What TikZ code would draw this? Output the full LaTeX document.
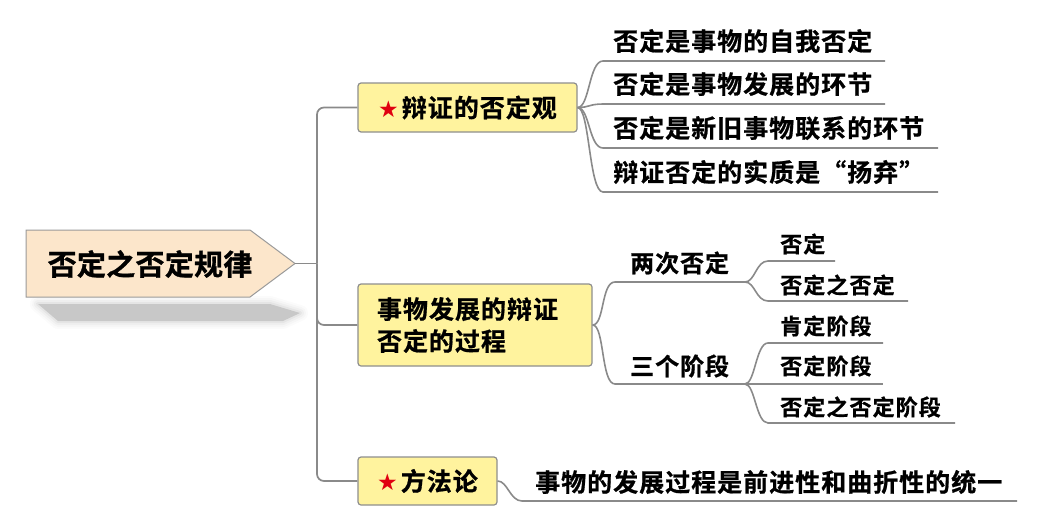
\documentclass[tikz,border=0pt]{standalone}
\usepackage{fontspec}
\setmainfont{Noto Sans CJK SC Bold}
\newfontfamily\cjkA{Noto Sans CJK SC Bold}[LetterSpace=4,FakeBold=0.8]
\newfontfamily\cjkB{Noto Sans CJK SC Bold}[LetterSpace=5,FakeBold=0.8]
\newfontfamily\cjkR{Noto Sans CJK SC Bold}[LetterSpace=1,FakeBold=1]
\newfontfamily\symfont{DejaVu Sans}
\definecolor{nodeyellow}{HTML}{FFF39E}
\definecolor{boxgray}{HTML}{8E8E8E}
\definecolor{rootfill}{HTML}{FCE6CB}
\definecolor{rootborder}{HTML}{9A9A9A}
\definecolor{linegray}{HTML}{8A8A8A}
\definecolor{shadowgray}{HTML}{C8C8C8}
\definecolor{starred}{HTML}{E00010}
\newcommand{\redstar}{{\symfont\fontsize{23}{23}\selectfont\textcolor{starred}{★}}\hspace{3pt}}
\begin{document}
\begin{tikzpicture}[x=1pt,y=-1pt,
  conn/.style={draw=linegray, line width=1.7pt, rounded corners=7pt},
  curv/.style={draw=linegray, line width=1.6pt},
  topic/.style={draw=boxgray, fill=nodeyellow, line width=1.2pt, rounded corners=3pt, inner sep=0pt, font=\cjkA\fontsize{25}{32}\selectfont},
  leafA/.style={anchor=west, inner sep=0pt, font=\cjkA\fontsize{25}{28}\selectfont},
  leafM/.style={anchor=west, inner sep=0pt, font=\cjkA\fontsize{24}{28}\selectfont},
  leafB/.style={anchor=west, inner sep=0pt, font=\cjkB\fontsize{22}{26}\selectfont},
]
\useasboundingbox (0,0) rectangle (1039,528);
% shadow of the root
\foreach \w/\o in {16/0.07, 12/0.1, 8/0.15, 4/0.25}
  \draw[shadowgray, line width=\w pt, opacity=\o, line join=round] (38,304) -- (270,304) -- (300,313) -- (283,321) -- (58,321) -- cycle;
\fill[shadowgray] (38,304) -- (270,304) -- (300,313) -- (283,321) -- (58,321) -- cycle;
% root
\draw[fill=rootfill, draw=rootborder, line width=1pt] (26,230) -- (250,230) -- (295,263.5) -- (250,297) -- (26,297) -- cycle;
\node[font=\cjkR\fontsize{29}{32}\selectfont, inner sep=0pt] (root) at (150,264) {否定之否定规律};
\coordinate (roottip) at (295,263.5);
\coordinate (trunk) at (317,263.5);

% main topics
\node[topic, minimum width=219, minimum height=49] (n1) at (467.5,107.5) {\redstar 辩证的否定观};
\node[topic, minimum width=234, minimum height=82, text width=196, inner xsep=19pt, align=left] (n2) at (475,325) {事物发展的辩证\\否定的过程};
\node[topic, minimum width=139, minimum height=48] (n3) at (427.5,481) {\redstar 方法论};

% trunk
\draw[conn] (roottip) -- (trunk);
\draw[conn] (n1.west) -| (trunk);
\draw[conn] (n2.west) -| (trunk);
\draw[conn] (n3.west) -| (trunk);

% leaves of n1
\node[leafA] (a1) at (613,41) {否定是事物的自我否定};
\node[leafA] (a2) at (613,84) {否定是事物发展的环节};
\node[leafA] (a3) at (613,128) {否定是新旧事物联系的环节};
\node[leafA] (a4) at (613,172) {辩证否定的实质是“扬弃”};
\coordinate (a1s) at (603,61);  \coordinate (a1e) at (885,61);
\coordinate (a2s) at (603,104); \coordinate (a2e) at (885,104);
\coordinate (a3s) at (603,148); \coordinate (a3e) at (938,148);
\coordinate (a4s) at (603,192); \coordinate (a4e) at (938,192);
\foreach \i in {1,2,3,4}
  \draw[curv] (n1.east) .. controls +(12,0) and +(-14,0) .. (a\i s) -- (a\i e);

% leaves of n2
\node[leafM] (b1) at (630,263) {两次否定};
\node[leafM] (b2) at (630,366) {三个阶段};
\coordinate (b1s) at (615,282); \coordinate (b1e) at (745,282);
\coordinate (b2s) at (615,384); \coordinate (b2e) at (745,384);
\foreach \i in {1,2}
  \draw[curv] (n2.east) .. controls +(12,0) and +(-14,0) .. (b\i s) -- (b\i e);

% leaves of b1
\node[leafB] (c1) at (780,244) {否定};
\node[leafB] (c2) at (780,285) {否定之否定};
\coordinate (c1s) at (768,261); \coordinate (c1e) at (835,261);
\coordinate (c2s) at (768,301); \coordinate (c2e) at (908,301);
\foreach \i in {1,2}
  \draw[curv] (b1e) .. controls +(10,0) and +(-12,0) .. (c\i s) -- (c\i e);

% leaves of b2
\node[leafB] (d1) at (780,326) {肯定阶段};
\node[leafB] (d2) at (780,366) {否定阶段};
\node[leafB] (d3) at (780,407) {否定之否定阶段};
\coordinate (d1s) at (768,343); \coordinate (d1e) at (883,343);
\coordinate (d2s) at (768,384); \coordinate (d2e) at (883,384);
\coordinate (d3s) at (768,423); \coordinate (d3e) at (955,423);
\foreach \i in {1,2,3}
  \draw[curv] (b2e) .. controls +(10,0) and +(-12,0) .. (d\i s) -- (d\i e);

% leaf of n3
\node[leafA] (e1) at (535,482) {事物的发展过程是前进性和曲折性的统一};
\coordinate (e1s) at (522,501); \coordinate (e1e) at (1017,501);
\draw[curv] (n3.east) .. controls +(10,0) and +(-12,0) .. (e1s) -- (e1e);
\end{tikzpicture}
\end{document}
